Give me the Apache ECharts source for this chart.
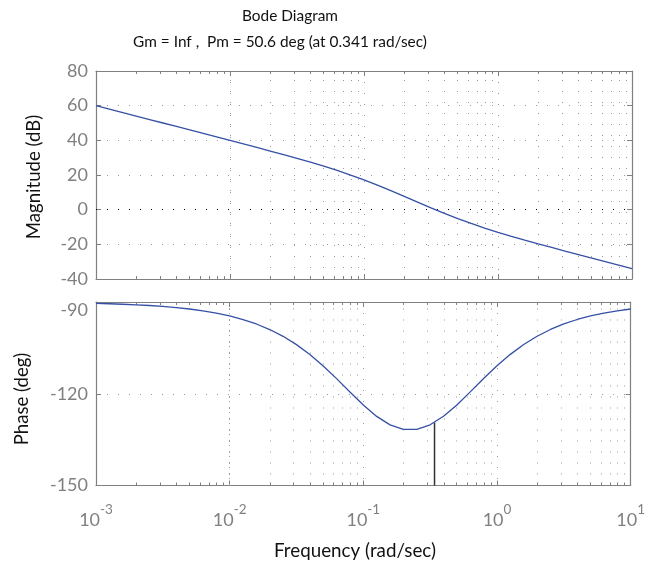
<!DOCTYPE html>
<html><head><meta charset="utf-8">
<script src="https://cdn.jsdelivr.net/npm/echarts@6/dist/echarts.min.js"></script>
<style>html,body{margin:0;padding:0;background:#fff}#c{width:648px;height:564px}</style>
</head><body><div id="c"></div>
<script>
// ---- data ----
const freq = [0.001, 0.001259, 0.001585, 0.001995, 0.002512, 0.003162, 0.003981, 0.005012, 0.00631, 0.007943,
  0.01, 0.01259, 0.01585, 0.01995, 0.02512, 0.03162, 0.03981, 0.05012, 0.0631, 0.07943,
  0.1, 0.1259, 0.1585, 0.1995, 0.2512, 0.3162, 0.3981, 0.5012, 0.631, 0.7943,
  1, 1.259, 1.585, 1.995, 2.512, 3.162, 3.981, 5.012, 6.31, 7.943, 10];
const magnitudeDb = [60.0, 58.0, 56.0, 54.0, 52.0, 50.0, 47.99, 45.99, 43.98, 41.97,
  39.96, 37.93, 35.9, 33.84, 31.75, 29.6, 27.39, 25.07, 22.61, 19.98,
  17.16, 14.14, 10.96, 7.67, 4.34, 1.05, -2.13, -5.15, -7.97, -10.6,
  -13.05, -15.37, -17.58, -19.73, -21.82, -23.88, -25.91, -27.94, -29.95, -31.96, -33.97];
const phaseDeg = [-90.46, -90.58, -90.73, -90.91, -91.15, -91.45, -91.82, -92.29, -92.89, -93.63,
  -94.57, -95.73, -97.19, -99.0, -101.22, -103.93, -107.15, -110.9, -115.06, -119.43,
  -123.69, -127.41, -130.17, -131.63, -131.63, -130.14, -127.37, -123.65, -119.39, -115.01,
  -110.86, -107.12, -103.9, -101.2, -98.98, -97.18, -95.72, -94.56, -93.62, -92.88, -92.29];
const crossoverFreq = [0.341, 0.341];
const crossoverPhase = [-150, -129.36];
const magTicks = { min: -40, max: 80, interval: 20 };
const phaseTicks = { min: -150, max: -90, interval: 30 };
const freqRange = { min: 0.001, max: 10 };
const titleLines = ['Bode Diagram', 'Gm = Inf ,  Pm = 50.6 deg (at 0.341 rad/sec)'];

// ---- styling ----
const FONT = 'Lato';
const AX = '#808080';
const GRIDC = '#9a9a9a';
const LINEC = '#3550a5';

const minorFreqs = [];
for (let d = -3; d < 1; d++) for (let m = 2; m <= 9; m++) minorFreqs.push(+(m * Math.pow(10, d)).toPrecision(3));

const grids = [
  { left: 96, right: 16, top: 71, height: 208 },
  { left: 96, right: 16, top: 302, height: 183.5 }
];

function xAx(gi, pos, labels) {
  return {
    type: 'log', logBase: 10, gridIndex: gi, position: pos,
    min: freqRange.min, max: freqRange.max,
    axisLine: { show: true, onZero: false, lineStyle: { color: AX, width: 1.2 } },
    axisTick: { show: true, inside: true, length: 5, lineStyle: { color: AX } },
    axisLabel: labels ? {
      show: true, margin: 17,
      formatter: v => '{b|10}{s|' + Math.round(Math.log10(v)) + '}',
      rich: {
        b: { fontSize: 18, fontFamily: FONT, color: AX, lineHeight: 27, verticalAlign: 'bottom' },
        s: { fontSize: 13.5, fontFamily: FONT, color: AX, verticalAlign: 'top' }
      }
    } : { show: false },
    splitLine: pos === 'bottom' ? { show: true, lineStyle: { color: GRIDC, type: [1, 10], width: 1 } } : { show: false }
  };
}
function yAx(gi, pos, t) {
  return {
    type: 'value', gridIndex: gi, position: pos,
    min: t.min, max: t.max, interval: t.interval,
    axisLine: { show: true, onZero: false, lineStyle: { color: AX, width: 1.2 } },
    axisTick: { show: true, inside: true, length: 5, lineStyle: { color: AX } },
    axisLabel: pos === 'left' ? { show: true, margin: 8, fontSize: 18, fontFamily: FONT, color: AX,
      formatter: v => (gi === 1 && v === -90) ? '{d|-90}' : String(v),
      rich: { d: { fontSize: 18, fontFamily: FONT, color: AX, padding: [16, 0, 0, 0] } } } : { show: false },
    splitLine: pos === 'left' ? { show: true, lineStyle: { color: GRIDC, type: [1, 10], width: 1 } } : { show: false }
  };
}

function minorLines(t, tickLen) {
  const out = [];
  minorFreqs.forEach(f => {
    out.push({ xAxis: f, lineStyle: { color: GRIDC, type: [1, 10], width: 1 } });
    out.push([{ coord: [f, t.max], lineStyle: { color: AX, type: 'solid', width: 1 } }, { coord: [f, t.max - tickLen] }]);
    out.push([{ coord: [f, t.min], lineStyle: { color: AX, type: 'solid', width: 1 } }, { coord: [f, t.min + tickLen] }]);
  });
  return out;
}

const magData = freq.map((f, i) => [f, magnitudeDb[i]]);
const phaseData = freq.map((f, i) => [f, phaseDeg[i]]);
const crossData = crossoverFreq.map((f, i) => [f, crossoverPhase[i]]);

const option = {
  animation: false,
  backgroundColor: '#fff',
  grid: grids,
  xAxis: [xAx(0, 'bottom', false), xAx(0, 'top', false), xAx(1, 'bottom', true), xAx(1, 'top', false)],
  yAxis: [yAx(0, 'left', magTicks), yAx(0, 'right', magTicks), yAx(1, 'left', phaseTicks), yAx(1, 'right', phaseTicks)],
  graphic: [
    { type: 'text', x: 290, y: 16, style: { text: titleLines[0], fontSize: 15.4, fontFamily: FONT, fill: '#111', align: 'center', verticalAlign: 'middle' } },
    { type: 'text', x: 280, y: 42, style: { text: titleLines[1], fontSize: 15.4, fontFamily: FONT, fill: '#111', align: 'center', verticalAlign: 'middle' } },
    { type: 'text', x: 34, y: 177, rotation: Math.PI / 2, style: { text: 'Magnitude (dB)', fontSize: 18.6, fontFamily: FONT, fill: '#111', align: 'center', verticalAlign: 'middle' } },
    { type: 'text', x: 22, y: 399, rotation: Math.PI / 2, style: { text: 'Phase (deg)', fontSize: 18.6, fontFamily: FONT, fill: '#111', align: 'center', verticalAlign: 'middle' } },
    { type: 'text', x: 355, y: 551, style: { text: 'Frequency (rad/sec)', fontSize: 18.8, fontFamily: FONT, fill: '#111', align: 'center', verticalAlign: 'middle' } }
  ],
  series: [
    {
      type: 'line', name: 'Magnitude', xAxisIndex: 0, yAxisIndex: 0, data: magData,
      showSymbol: false, symbol: 'none', lineStyle: { color: LINEC, width: 1.3 }, silent: true, z: 5,
      markLine: { silent: true, symbol: 'none', label: { show: false }, animation: false,
        data: minorLines(magTicks, 1.7).concat([{ yAxis: 0, lineStyle: { color: '#000', type: [1, 10], width: 1 } }]) }
    },
    {
      type: 'line', name: 'Phase', xAxisIndex: 2, yAxisIndex: 2, data: phaseData,
      showSymbol: false, symbol: 'none', lineStyle: { color: LINEC, width: 1.3 }, silent: true, z: 5,
      markLine: { silent: true, symbol: 'none', label: { show: false }, animation: false,
        data: minorLines(phaseTicks, 0.98) }
    },
    {
      type: 'line', name: 'Crossover', xAxisIndex: 2, yAxisIndex: 2, data: crossData,
      showSymbol: false, symbol: 'none', lineStyle: { color: '#333', width: 1.5 }, silent: true, z: 4
    }
  ]
};
echarts.init(document.getElementById('c'), null, { renderer: 'canvas' }).setOption(option);
</script></body></html>
